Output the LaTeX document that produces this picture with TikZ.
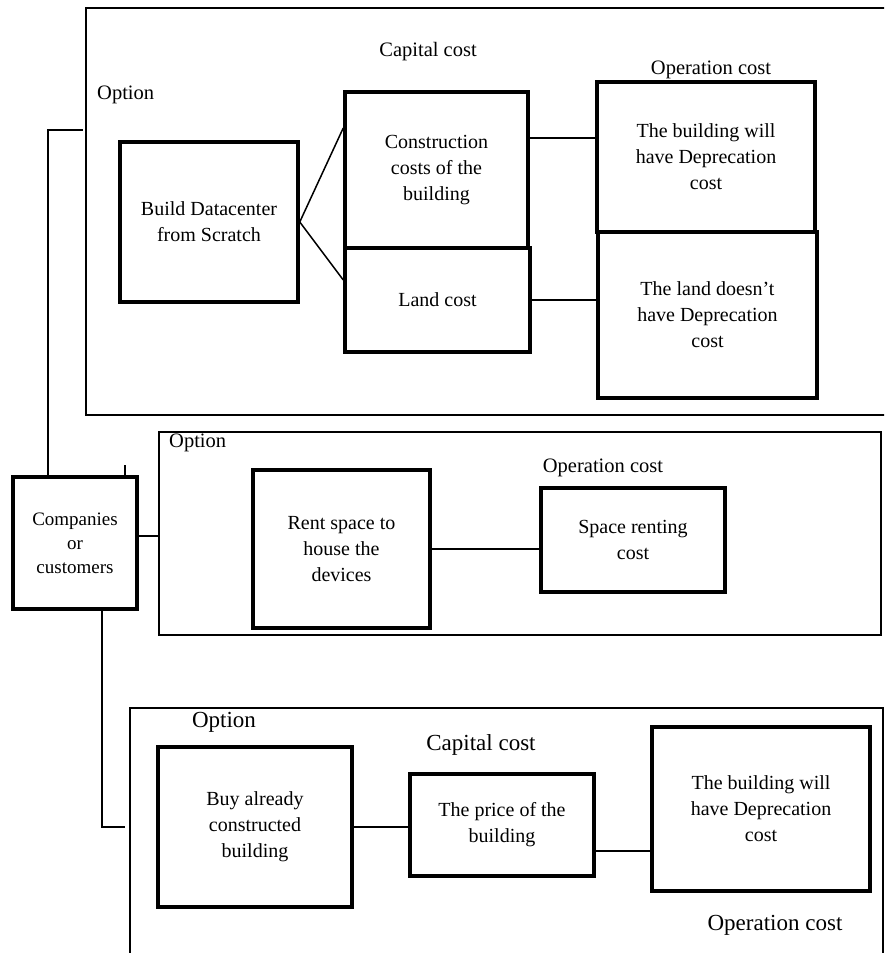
\documentclass[tikz,border=0pt]{standalone}
\usepackage{fontspec}
\setmainfont{Liberation Serif}
\usetikzlibrary{positioning}
\tikzstyle{frame}=[rectangle, draw=black, line width=1.8pt, inner sep=0pt]
\tikzstyle{costbox}=[rectangle, draw=black, line width=3.5pt, align=center, inner sep=0pt, font=\fontsize{20}{26}\selectfont]
\tikzstyle{costlabel}=[inner sep=0pt, font=\fontsize{20.5}{24}\selectfont]
\tikzstyle{biglabel}=[inner sep=0pt, font=\fontsize{23}{26}\selectfont]
\tikzstyle{link}=[draw=black, line width=1.5pt]

\begin{document}
\begin{tikzpicture}[x=1pt, y=-1pt]
      \clip (0,0) rectangle (884,953);
      \fill[white] (0,0) rectangle (884,953);
      % the three option frames
      \node[frame, minimum width=814pt, minimum height=407pt] (topframe) at (493,211.5) {};
      \node[frame, minimum width=722pt, minimum height=203pt] (midframe) at (520,533.5) {};
      \node[frame, minimum width=753pt, minimum height=267pt] (botframe) at (506.5,841.5) {};

      \node[costbox, minimum width=124pt, minimum height=132pt, font=\fontsize{19}{24}\selectfont] (companies) at (75,543) {Companies\\or\\customers};

      % build from scratch
      \node[costlabel, anchor=west] (optA) at (97,95) {Option};
      \node[costlabel] (capA) at (428,52) {Capital cost};
      \node[costlabel] (opA) at (711,70) {Operation cost};
      \node[costbox, minimum width=178pt, minimum height=160pt] (build) at (209,222) {Build Datacenter\\from Scratch};
      \node[costbox, minimum width=183pt, minimum height=156pt] (construction) at (436.5,170) {Construction\\costs of the\\building};
      \node[costbox, minimum width=185pt, minimum height=104pt] (land) at (437.5,300) {Land cost};
      \node[costbox, minimum width=218pt, minimum height=150pt] (buildingdep) at (706,157) {The building will\\have Deprecation\\cost};
      \node[costbox, minimum width=219pt, minimum height=166pt] (landdep) at (707.5,315) {The land doesn’t\\have Deprecation\\cost};

      % rent space
      \node[costlabel, anchor=west] (optB) at (169,443) {Option};
      \node[costlabel] (opB) at (603,468) {Operation cost};
      \node[costbox, minimum width=177pt, minimum height=158pt] (rent) at (341.5,549) {Rent space to\\house the\\devices};
      \node[costbox, minimum width=184pt, minimum height=104pt] (renting) at (633,540) {Space renting\\cost};

      % buy a building
      \node[biglabel] (optC) at (224,722) {Option};
      \node[biglabel] (capC) at (481,745) {Capital cost};
      \node[biglabel] (opC) at (775,925) {Operation cost};
      \node[costbox, minimum width=194pt, minimum height=160pt] (buy) at (255,827) {Buy already\\constructed\\building};
      \node[costbox, minimum width=184pt, minimum height=102pt] (price) at (502,825) {The price of the\\building};
      \node[costbox, minimum width=218pt, minimum height=164pt] (buydep) at (761,809) {The building will\\have Deprecation\\cost};

      % connectors
      \coordinate (toA) at (83,130);
      \coordinate (toC) at (125,827);
      \draw[link] ([xshift=-27pt]companies.north) |- (toA);
      \draw[link] ([xshift=50pt]companies.north) -- ++(0,-10);
      \draw[link] ([yshift=7pt]companies.east) -- ([yshift=7pt]companies.east -| midframe.west);
      \draw[link] ([xshift=27pt]companies.south) |- (toC);
      \draw[link] (build.east) -- ([yshift=42pt]construction.west);
      \draw[link] (build.east) -- ([yshift=20pt]land.west);
      \draw[link] ([yshift=32pt]construction.east) -- ([yshift=32pt]construction.east -| buildingdep.west);
      \draw[link] (land.east) -- (land.east -| landdep.west);
      \draw[link] (rent.east) -- (rent.east -| renting.west);
      \draw[link] (buy.east) -- (buy.east -| price.west);
      \draw[link] ([yshift=-26pt]price.east) -- ([yshift=-26pt]price.east -| buydep.west);
  \end{tikzpicture}
\end{document}
